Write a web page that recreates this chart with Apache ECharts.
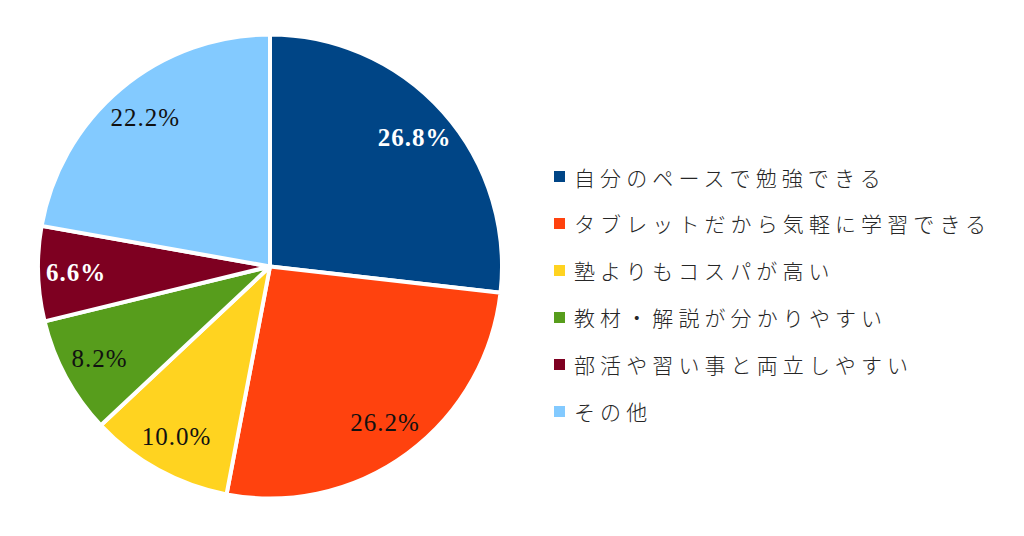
<!DOCTYPE html>
<html>
<head>
<meta charset="utf-8">
<script src="https://cdn.jsdelivr.net/npm/echarts@6/dist/echarts.min.js"></script>
<style>
html,body{margin:0;padding:0;background:#fff;}
#c{width:1024px;height:536px;}
#c text[style*="Noto Sans CJK"]{letter-spacing:5.1px;}
#c text[style*="Liberation Serif"]{letter-spacing:1px;}
</style>
</head>
<body>
<div id="c"></div>
<script>
const categories = ['自分のペースで勉強できる','タブレットだから気軽に学習できる','塾よりもコスパが高い','教材・解説が分かりやすい','部活や習い事と両立しやすい','その他'];
const values = [26.8, 26.2, 10.0, 8.2, 6.6, 22.2];
const colors = ['#004586','#ff420e','#ffd320','#579d1c','#7e0021','#83caff'];
const whiteLabelIdx = [0, 4];

const chart = echarts.init(document.getElementById('c'), null, {renderer:'svg'});
const pieData = categories.map((n,i)=>({name:n, value:values[i], itemStyle:{color:colors[i]}}));
const labelData = categories.map((n,i)=>{
  const w = whiteLabelIdx.includes(i);
  return {name:n, value:values[i], label:{color: w?'#ffffff':'#111111', fontWeight: w?'bold':'normal'}};
});
chart.setOption({
  backgroundColor:'#ffffff',
  animation:false,
  legend:{
    orient:'vertical', left:552, top:166, padding:0,
    itemWidth:13, itemHeight:13, itemGap:26.0, icon:'rect',
    data:categories,
    textStyle:{fontFamily:'"Noto Sans CJK JP"', fontSize:21, lineHeight:20, color:'#262626', fontWeight:300, padding:[0,0,0,3]}
  },
  series:[
    {
      type:'pie', center:[270,266.5], radius:[0,232], startAngle:90, clockwise:true,
      data:pieData, label:{show:false}, labelLine:{show:false},
      itemStyle:{borderColor:'#ffffff', borderWidth:4}, emphasis:{disabled:true}, silent:true
    },
    {
      type:'pie', center:[270,266.5], radius:[150,232], startAngle:90, clockwise:true,
      data:labelData, itemStyle:{color:'rgba(0,0,0,0)'}, labelLine:{show:false},
      label:{show:true, position:'inside', fontFamily:'"Liberation Serif"', fontSize:25,
        formatter:p=>p.value.toFixed(1)+'%'},
      emphasis:{disabled:true}, silent:true
    }
  ]
});
</script>
</body>
</html>
